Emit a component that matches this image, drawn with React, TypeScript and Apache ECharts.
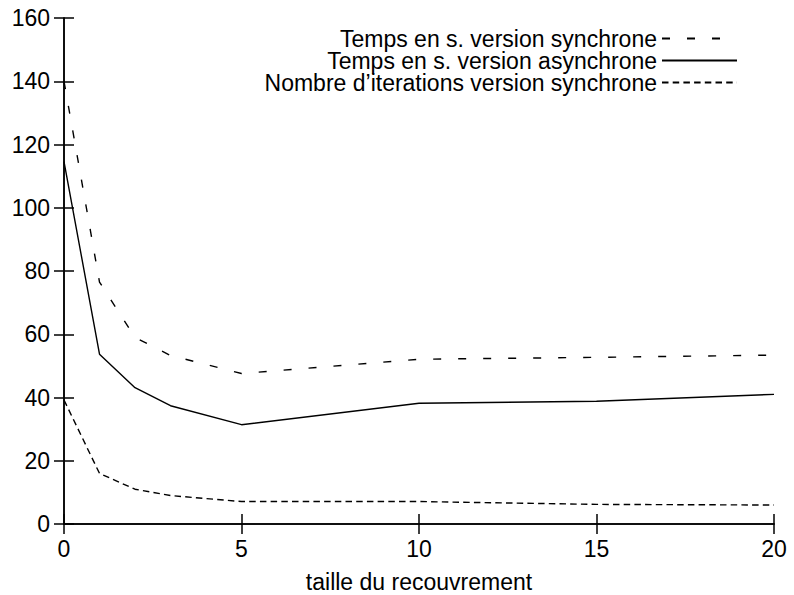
import React, { useEffect, useRef } from "react";
import * as echarts from "echarts";

const xValues = [0, 1, 2, 3, 5, 10, 15, 20];
const tempsSync = [140, 76.5, 59, 53.3, 47.6, 52.1, 52.7, 53.4];
const tempsAsync = [114.6, 53.7, 43.1, 37.4, 31.4, 38.2, 38.8, 41.0];
const iterSync = [39.2, 16, 11, 9, 7.1, 7.1, 6.2, 6.0];

const seriesNames = [
  "Temps en s. version synchrone",
  "Temps en s. version asynchrone",
  "Nombre d\u2019iterations version synchrone",
];
const xAxisTitle = "taille du recouvrement";

const FONT = "'Liberation Sans', Arial, Helvetica, sans-serif";

export default function App() {
  const ref = useRef<HTMLDivElement>(null);
  useEffect(() => {
    if (!ref.current) return;
    const chart = echarts.init(ref.current, undefined, { renderer: "svg" });
    const pair = (ys: number[]) => xValues.map((x, i) => [x, ys[i]]);
    const axisLine = { show: true, lineStyle: { color: "#000", width: 1.5 } };
    const axisTick = { show: true, inside: true, length: 10, lineStyle: { color: "#000", width: 1.5 } };
    const lbl = { color: "#000", fontSize: 23, fontFamily: FONT };
    chart.setOption({
      animation: false,
      backgroundColor: "#fff",
      grid: { left: 64, right: 20, top: 18, bottom: 71, containLabel: false, outerBoundsMode: "none" },
      legend: {
        orient: "vertical",
        align: "right",
        right: 56,
        top: 27,
        padding: 0,
        itemGap: -1,
        itemWidth: 75,
        itemHeight: 14,
        data: seriesNames,
        itemStyle: { color: "rgba(0,0,0,0)", borderWidth: 0, opacity: 0 },
        textStyle: { color: "#000", fontSize: 23, fontFamily: FONT, lineHeight: 21.5 },
      },
      xAxis: [
        {
          type: "value",
          min: 0,
          max: 20,
          interval: 5,
          name: xAxisTitle,
          nameLocation: "middle",
          nameGap: 46,
          nameTextStyle: lbl,
          axisLine,
          axisTick,
          splitLine: { show: false },
          axisLabel: { ...lbl, margin: 13 },
        },
        {
          type: "value",
          position: "top",
          min: 0,
          max: 20,
          interval: 5,
          axisLine,
          axisTick,
          splitLine: { show: false },
          axisLabel: { show: false },
        },
      ],
      yAxis: [
        {
          type: "value",
          min: 0,
          max: 160,
          interval: 20,
          axisLine,
          axisTick,
          splitLine: { show: false },
          axisLabel: { ...lbl, margin: 14 },
        },
        {
          type: "value",
          position: "right",
          min: 0,
          max: 160,
          interval: 20,
          axisLine,
          axisTick,
          splitLine: { show: false },
          axisLabel: { show: false },
        },
      ],
      series: [
        {
          name: seriesNames[0],
          type: "line",
          data: pair(tempsSync),
          symbol: "none",
          itemStyle: { color: "#000" },
          lineStyle: { color: "#000", width: 1.4, type: [8, 17] },
        },
        {
          name: seriesNames[1],
          type: "line",
          data: pair(tempsAsync),
          symbol: "none",
          itemStyle: { color: "#000" },
          lineStyle: { color: "#000", width: 1.4, type: "solid" },
        },
        {
          name: seriesNames[2],
          type: "line",
          data: pair(iterSync),
          symbol: "none",
          itemStyle: { color: "#000" },
          lineStyle: { color: "#000", width: 1.4, type: [6.5, 4.2] },
        },
      ],
    });
    return () => chart.dispose();
  }, []);
  return <div ref={ref} style={{ width: 794, height: 595, position: "absolute", left: 0, top: 0 }} />;
}
